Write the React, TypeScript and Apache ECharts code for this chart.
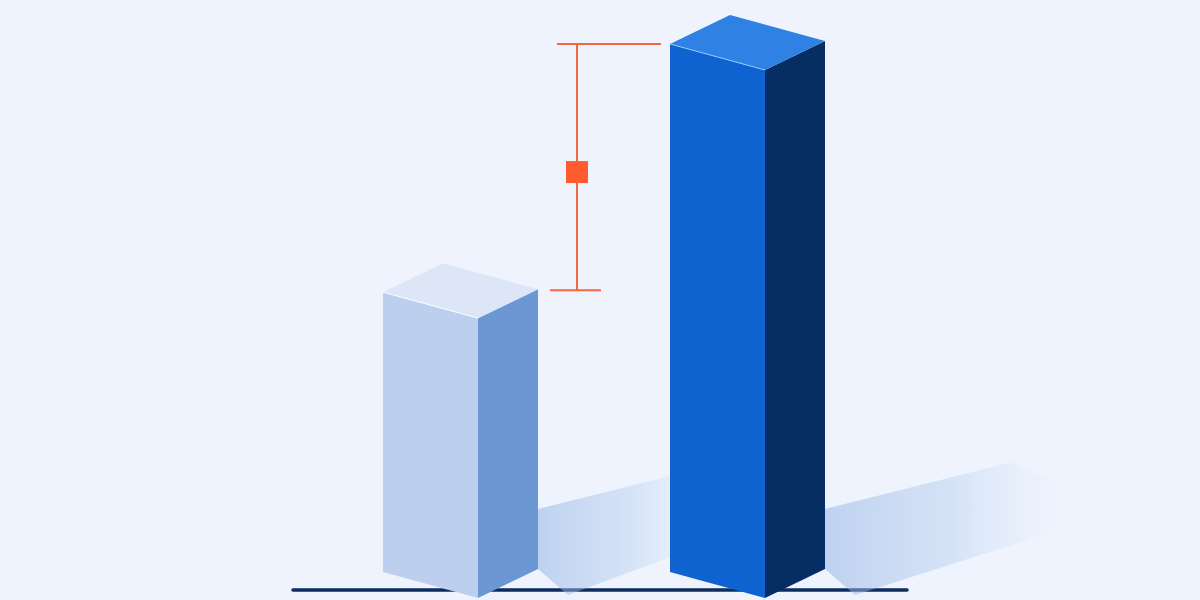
import React, { useEffect, useRef } from "react";
import * as echarts from "echarts";

// two bars and the gap marker between their tops
const categories = ["Before", "After"];
const values = [53, 100];
const yMax = 100;

// isometric box shape (pixels)
const LEFT_W = 95;
const LEFT_RISE = 26;
const RIGHT_W = 60;
const RIGHT_RISE = 29;

const PALETTE = [
  { front: "#bccfee", side: "#6b97d2", top: "#dce6f6", edge: "rgba(255,255,255,0.9)" },
  { front: "#0e63d1", side: "#062e63", top: "#2f81e4", edge: "rgba(160,205,255,0.9)" },
];

const ORANGE = "#f2673f";

const App: React.FC = () => {
  const ref = useRef<HTMLDivElement>(null);

  useEffect(() => {
    if (!ref.current) return;
    const chart = echarts.init(ref.current, null, { renderer: "svg" });

    const renderBar = (params: any, api: any) => {
      const i = api.value(0);
      const v = api.value(1);
      const [cx, by] = api.coord([i, 0]);
      const ty = api.coord([i, v])[1];
      const c = PALETTE[i % PALETTE.length];
      const rx = cx + RIGHT_W;
      const ry = by - RIGHT_RISE;
      // shadow grows with bar height
      const len = 100 + (by - ty) * 0.25;
      const children: any[] = [
        {
          type: "polygon",
          shape: {
            points: [
              [rx, ry - 60],
              [rx + len * 0.8, ry - 60 - len * 0.8 * 0.25],
              [rx + len, ry - 35 - len * 0.22],
              [rx + len, ry + 8 - len * 0.2],
              [rx + 30, ry + 26],
              [rx, ry],
            ],
          },
          style: {
            fill: new echarts.graphic.LinearGradient(0, 0, 1, 0, [
              { offset: 0, color: "rgba(150,182,228,0.55)" },
              { offset: 0.55, color: "rgba(168,196,236,0.35)" },
              { offset: 1, color: "rgba(200,218,245,0)" },
            ]),
          },
        },
        {
          type: "polygon",
          shape: {
            points: [
              [cx - LEFT_W, by - LEFT_RISE],
              [cx, by],
              [cx, ty],
              [cx - LEFT_W, ty - LEFT_RISE],
            ],
          },
          style: { fill: c.front },
        },
        {
          type: "polygon",
          shape: {
            points: [
              [cx, by],
              [rx, ry],
              [rx, ty - RIGHT_RISE],
              [cx, ty],
            ],
          },
          style: { fill: c.side },
        },
        {
          type: "polygon",
          shape: {
            points: [
              [cx, ty],
              [cx - LEFT_W, ty - LEFT_RISE],
              [cx - LEFT_W + RIGHT_W, ty - LEFT_RISE - RIGHT_RISE],
              [rx, ty - RIGHT_RISE],
            ],
          },
          style: { fill: c.top },
        },
        {
          type: "polyline",
          shape: {
            points: [
              [cx - LEFT_W, ty - LEFT_RISE],
              [cx, ty],
            ],
          },
          style: { stroke: c.edge, lineWidth: 1, fill: "none" },
        },
      ];
      return { type: "group", children };
    };

    const renderGap = (params: any, api: any) => {
      const low = api.coord([0, api.value(1)]);
      const high = api.coord([1, api.value(2)]);
      const x = low[0] + RIGHT_W + 39;
      const yBottom = low[1] - 28;
      const yTop = high[1] - LEFT_RISE;
      const midY = (yTop + yBottom) / 2 + 5;
      const line = { stroke: ORANGE, lineWidth: 2 };
      return {
        type: "group",
        children: [
          { type: "line", shape: { x1: x, y1: yTop, x2: x, y2: yBottom }, style: line },
          { type: "line", shape: { x1: x - 20, y1: yTop, x2: high[0] - LEFT_W - 9, y2: yTop }, style: line },
          { type: "line", shape: { x1: x - 27, y1: yBottom, x2: x + 24, y2: yBottom }, style: line },
          {
            type: "rect",
            shape: { x: x - 11, y: midY - 11, width: 22, height: 22 },
            style: { fill: "#ff5b2e" },
          },
        ],
      };
    };

    chart.setOption({
      animation: false,
      backgroundColor: "#eef3fd",
      grid: { left: 334.5, right: 291.5, top: 70, bottom: 2 },
      xAxis: { type: "category", data: categories, show: false },
      yAxis: { type: "value", min: 0, max: yMax, show: false },
      graphic: [
        {
          type: "line",
          z: 0,
          shape: { x1: 293, y1: 590, x2: 907, y2: 590 },
          style: { stroke: "#0d2d5e", lineWidth: 3.5, lineCap: "round" },
        },
      ],
      series: [
        {
          type: "custom",
          z: 3,
          renderItem: renderBar,
          data: values.map((v, i) => [i, v]),
        },
        {
          type: "custom",
          z: 4,
          renderItem: renderGap,
          data: [[0, values[0], values[1]]],
        },
      ],
    });

    return () => chart.dispose();
  }, []);

  return (
    <div
      ref={ref}
      style={{ position: "fixed", left: 0, top: 0, width: 1200, height: 600 }}
    />
  );
};

export default App;
